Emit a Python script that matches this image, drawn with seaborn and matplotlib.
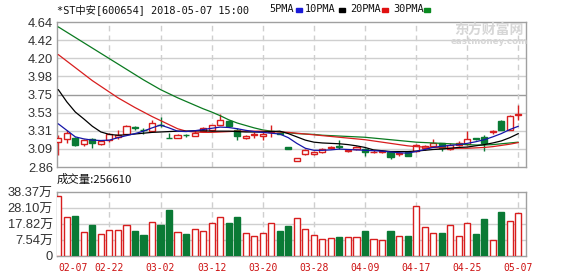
import numpy as np
import pandas as pd
import matplotlib
matplotlib.use("Agg")
import matplotlib.pyplot as plt
from matplotlib.patches import Rectangle
import seaborn as sns

# ---------------- data ----------------
dates = ["02-07", "02-08", "02-09", "02-12", "02-13", "02-14", "02-22", "02-23", "02-26", "02-27",
         "02-28", "03-01", "03-02", "03-05", "03-06", "03-07", "03-08", "03-09", "03-12", "03-13",
         "03-14", "03-15", "03-16", "03-19", "03-20", "03-21", "03-22", "03-23", "03-26", "03-27",
         "03-28", "03-29", "03-30", "04-02", "04-03", "04-04", "04-09", "04-10", "04-11", "04-12",
         "04-13", "04-16", "04-17", "04-18", "04-19", "04-20", "04-23", "04-24", "04-25", "04-26",
         "04-27", "05-02", "05-03", "05-04", "05-07"]

open_ = [3.17, 3.20, 3.22, 3.14, 3.20, 3.14, 3.19, 3.23, 3.27, 3.345,
         3.315, 3.30, 3.375, 3.22, 3.22, 3.255, 3.24, 3.30, 3.31, 3.38,
         3.42, 3.31, 3.21, 3.25, 3.24, 3.29, 3.275, 3.11, 2.93, 3.02,
         3.02, 3.04, 3.09, 3.115, 3.06, 3.08, 3.08, 3.045, 3.045, 3.04,
         3.02, 3.04, 3.06, 3.09, 3.12, 3.15, 3.08, 3.13, 3.14, 3.21,
         3.23, 3.29, 3.43, 3.32, 3.50]
close = [3.21, 3.28, 3.13, 3.19, 3.155, 3.18, 3.26, 3.25, 3.36, 3.34,
         3.31, 3.40, 3.37, 3.21, 3.25, 3.25, 3.28, 3.34, 3.37, 3.44,
         3.36, 3.24, 3.24, 3.26, 3.27, 3.30, 3.27, 3.08, 2.97, 3.07,
         3.05, 3.08, 3.11, 3.11, 3.065, 3.11, 3.05, 3.05, 3.055, 2.985,
         3.03, 3.00, 3.13, 3.115, 3.16, 3.09, 3.13, 3.15, 3.20, 3.20,
         3.16, 3.30, 3.32, 3.49, 3.51]
high = [3.25, 3.32, 3.23, 3.20, 3.21, 3.19, 3.28, 3.31, 3.38, 3.36,
        3.34, 3.44, 3.47, 3.28, 3.26, 3.27, 3.32, 3.35, 3.38, 3.51,
        3.44, 3.34, 3.25, 3.29, 3.29, 3.37, 3.29, 3.11, 2.97, 3.08,
        3.06, 3.09, 3.12, 3.19, 3.08, 3.12, 3.09, 3.07, 3.07, 3.06,
        3.05, 3.05, 3.14, 3.13, 3.20, 3.16, 3.15, 3.18, 3.30, 3.22,
        3.25, 3.31, 3.44, 3.50, 3.62]
low = [3.01, 3.16, 3.12, 3.12, 3.09, 3.13, 3.17, 3.20, 3.26, 3.32,
       3.26, 3.29, 3.35, 3.21, 3.22, 3.23, 3.24, 3.29, 3.30, 3.37,
       3.35, 3.19, 3.20, 3.21, 3.19, 3.23, 3.26, 3.08, 2.93, 3.01,
       3.01, 3.03, 3.08, 3.08, 3.04, 3.07, 2.99, 3.03, 3.03, 2.96,
       3.00, 2.99, 3.05, 3.07, 3.10, 3.06, 3.07, 3.12, 3.13, 3.19,
       3.06, 3.27, 3.31, 3.31, 3.44]

ma5 = [3.39, 3.31, 3.23, 3.205, 3.19, 3.185, 3.19, 3.22, 3.245, 3.27,
       3.30, 3.34, 3.375, 3.34, 3.30, 3.295, 3.305, 3.32, 3.335, 3.35,
       3.345, 3.33, 3.31, 3.295, 3.285, 3.275, 3.265, 3.22, 3.15, 3.09,
       3.065, 3.065, 3.07, 3.08, 3.075, 3.07, 3.065, 3.06, 3.055, 3.045,
       3.035, 3.03, 3.05, 3.075, 3.10, 3.115, 3.125, 3.135, 3.15, 3.17,
       3.195, 3.23, 3.27, 3.32, 3.36]
ma10 = [3.81, 3.66, 3.535, 3.45, 3.36, 3.29, 3.26, 3.25, 3.255, 3.265,
        3.275, 3.285, 3.29, 3.295, 3.30, 3.30, 3.305, 3.305, 3.30, 3.30,
        3.30, 3.295, 3.29, 3.29, 3.29, 3.295, 3.30, 3.27, 3.23, 3.19,
        3.165, 3.155, 3.15, 3.145, 3.135, 3.12, 3.10, 3.07, 3.06, 3.05,
        3.05, 3.05, 3.055, 3.065, 3.075, 3.08, 3.09, 3.10, 3.105, 3.12,
        3.135, 3.155, 3.18, 3.22, 3.27]
ma20 = [4.24, 4.16, 4.08, 4.00, 3.92, 3.85, 3.78, 3.71, 3.65, 3.59,
        3.535, 3.48, 3.43, 3.38, 3.33, 3.30, 3.29, 3.285, 3.285, 3.29,
        3.295, 3.30, 3.30, 3.30, 3.30, 3.295, 3.29, 3.285, 3.275, 3.265,
        3.255, 3.245, 3.235, 3.225, 3.215, 3.205, 3.195, 3.18, 3.165, 3.15,
        3.135, 3.12, 3.11, 3.105, 3.10, 3.095, 3.09, 3.09, 3.09, 3.095,
        3.10, 3.11, 3.125, 3.14, 3.16]
ma30 = [4.58, 4.515, 4.45, 4.385, 4.32, 4.255, 4.19, 4.125, 4.06, 3.995,
        3.93, 3.87, 3.81, 3.76, 3.71, 3.665, 3.62, 3.575, 3.535, 3.49,
        3.44, 3.40, 3.37, 3.34, 3.315, 3.30, 3.29, 3.28, 3.27, 3.265,
        3.26, 3.25, 3.245, 3.24, 3.235, 3.23, 3.225, 3.215, 3.205, 3.195,
        3.185, 3.175, 3.165, 3.16, 3.155, 3.15, 3.145, 3.14, 3.135, 3.13,
        3.13, 3.135, 3.145, 3.155, 3.165]

volume_wan = [36.0, 23.2, 24.0, 14.4, 18.6, 13.2, 15.6, 15.6, 18.6, 15.0,
              12.6, 20.2, 18.6, 27.6, 14.4, 13.2, 16.0, 15.0, 19.6, 23.2,
              20.0, 23.2, 13.6, 12.0, 13.6, 19.6, 15.0, 18.0, 22.6, 16.0,
              12.4, 10.0, 10.6, 11.4, 11.4, 11.4, 15.0, 10.2, 9.6, 15.0,
              12.0, 12.0, 30.0, 17.2, 13.8, 13.8, 18.6, 12.0, 19.6, 13.2,
              22.2, 9.6, 26.4, 21.0, 25.661]

price_ticks = ["2.86", "3.09", "3.31", "3.53", "3.75", "3.98", "4.20", "4.42", "4.64"]
vol_ticks = ["0", "7.54万", "17.82万", "28.10万", "38.37万"]
ma_names = ["5PMA", "10PMA", "20PMA", "30PMA"]
title_text = "*ST中安[600654] 2018-05-07 15:00"
vol_title = "成交量:256610"

# ---------------- styling ----------------
RED = "#d81e1e"
GREEN = "#0a7a35"
MA_COLORS = ["#1515a8", "#000000", "#d81e1e", "#0a7a20"]
LEG_COLORS = ["#1a1ad8", "#000000", "#e01010", "#0a8a20"]
GRID = "#cfcfcf"
FRAME = "#a0a0a0"

sns.set_theme(style="white")
plt.rcParams["font.family"] = ["Liberation Sans", "Noto Sans CJK SC"]
MONO = ["DejaVu Sans Mono", "Noto Sans CJK SC"]

W, H = 578, 276
fig = plt.figure(figsize=(W / 100, H / 100), dpi=100)
L, R = 57, 526
axp = fig.add_axes([L / W, 1 - 167 / H, (R - L) / W, 145 / H])
axv = fig.add_axes([L / W, 1 - 256 / H, (R - L) / W, 64 / H])

df = pd.DataFrame({"date": dates, "open": open_, "close": close, "high": high,
                   "low": low, "vol": volume_wan})
df["x"] = np.arange(len(df))
df["up"] = df["close"] >= df["open"]
n = len(df)
xlim = (-0.15, n - 1 + 0.9)

# ---------------- price panel ----------------
ymin, ymax = 2.86, 4.64
ytick_pos = np.linspace(ymin, ymax, len(price_ticks))
for i, yp in enumerate(ytick_pos[1:-1], start=1):
    axp.axhline(yp, color="#9a9a9a" if i == 4 else GRID, lw=1, zorder=0)
grid_idx = list(range(6, n, 6))
for gi in grid_idx:
    axp.axvline(gi, color=GRID, lw=1, ls=(0, (4, 3)), zorder=0)
    axv.axvline(gi, color=GRID, lw=1, ls=(0, (4, 3)), zorder=0)

cols = np.where(df["up"], RED, GREEN)
axp.vlines(df["x"], df["low"], df["high"], colors=cols, lw=1, zorder=2)
body_bottom = np.minimum(df["open"], df["close"])
body_h = np.maximum(np.abs(df["close"] - df["open"]), 0.002)
faces = np.where(df["up"], "white", GREEN)
axp.bar(df["x"], body_h, bottom=body_bottom, width=0.72, color=faces,
        edgecolor=cols, linewidth=1, zorder=3)

for vals, c in zip([ma30, ma20, ma10, ma5], MA_COLORS[::-1]):
    sns.lineplot(x=df["x"], y=vals, color=c, lw=0.9, ax=axp, zorder=4)

axp.set_xlim(*xlim)
axp.set_ylim(ymin, ymax)
axp.set_yticks(ytick_pos)
axp.set_yticklabels(price_ticks)
axp.set_xticks([])
axp.set_xlabel("")
axp.set_ylabel("")
axp.tick_params(axis="y", length=0, pad=3, labelsize=9.3, colors="#333333")
for s in axp.spines.values():
    s.set_color(FRAME)
    s.set_linewidth(1)

# ---------------- volume panel ----------------
vmax = 38.37
vtick_pos = np.linspace(0, vmax, len(vol_ticks))
for yp in vtick_pos[1:-1]:
    axv.axhline(yp, color=GRID, lw=1, zorder=0)

up_df = df[df["up"]]
dn_df = df[~df["up"]]
n_before = len(axv.patches)
sns.barplot(x=up_df["x"], y=up_df["vol"], native_scale=True, width=0.72,
            color=RED, saturation=1, errorbar=None, ax=axv, zorder=3)
for p in axv.patches[n_before:]:
    p.set_facecolor("white")
    p.set_edgecolor(RED)
    p.set_linewidth(1)
n_before = len(axv.patches)
sns.barplot(x=dn_df["x"], y=dn_df["vol"], native_scale=True, width=0.72,
            color=GREEN, saturation=1, errorbar=None, ax=axv, zorder=3)
for p in axv.patches[n_before:]:
    p.set_facecolor(GREEN)
    p.set_edgecolor(GREEN)
    p.set_linewidth(1)

axv.set_xlim(*xlim)
axv.set_ylim(0, vmax)
axv.set_yticks(vtick_pos)
axv.set_yticklabels(vol_ticks)
axv.set_xlabel("")
axv.set_ylabel("")
axv.tick_params(axis="y", length=0, pad=3, labelsize=9.3, colors="#333333")
xt = [0] + grid_idx
axv.set_xticks(xt)
axv.set_xticklabels([dates[i] for i in xt])
axv.tick_params(axis="x", length=0, pad=5, labelsize=7, colors="#cc1010")
for i, lab in enumerate(axv.get_xticklabels()):
    lab.set_fontfamily(MONO)
    if i == 0:
        lab.set_ha("left")
for s in axv.spines.values():
    s.set_color(FRAME)
    s.set_linewidth(1)

# ---------------- header texts ----------------
fig.text(57 / W, 1 - 9.5 / H, title_text, fontsize=7.4, family=MONO,
         color="#111111", va="center", ha="left")
leg_x = [269, 305, 350, 393]
leg_box = [296, 339, 382, 424]
for name, tx, bx, c in zip(ma_names, leg_x, leg_box, LEG_COLORS):
    fig.text(tx / W, 1 - 9.5 / H, name, fontsize=7.4, family=MONO,
             color="#111111", va="center", ha="left")
    fig.patches.append(Rectangle((bx / W, 1 - 11.5 / H), 6 / W, 3 / H,
                                 transform=fig.transFigure, color=c))

fig.text(57 / W, 1 - 179 / H, vol_title, fontsize=8.2,
         family=["Noto Sans CJK SC"], color="#111111", va="center", ha="left")

# watermark
fig.text(489 / W, 1 - 30 / H, "东方财富网", fontsize=10, fontweight="bold",
         family=["Noto Sans CJK SC"], color="#d6d6d6", va="center", ha="center")
fig.text(489 / W, 1 - 42 / H, "eastmoney.com", fontsize=6.3, fontweight="bold",
         family=["DejaVu Sans"], color="#d6d6d6", va="center", ha="center")

fig.savefig("out.png", dpi=100)
